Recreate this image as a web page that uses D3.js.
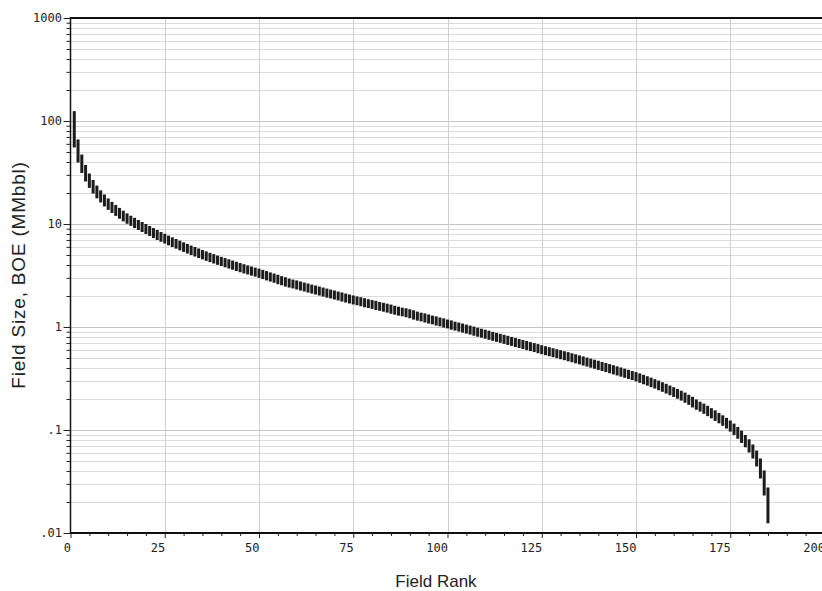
<!DOCTYPE html>
<html>
<head>
<meta charset="utf-8">
<script src="https://cdn.jsdelivr.net/npm/d3@7"></script>
<style>
body { margin: 0; background: #fff; }
</style>
</head>
<body>
<div id="plot-cont"></div>
<script>
// field sizes in MMbbl BOE, largest first
const fieldSize = [
  114, 60.5, 43.2, 34.2, 28.3, 24.5, 21.6, 19.4, 17.7, 16.2,
  15.0, 14.0, 13.1, 12.3, 11.6, 11.0, 10.5, 10.0, 9.56, 9.15,
  8.74, 8.36, 8.00, 7.65, 7.35, 7.06, 6.79, 6.54, 6.30, 6.07,
  5.86, 5.65, 5.47, 5.29, 5.11, 4.96, 4.80, 4.66, 4.52, 4.39,
  4.27, 4.15, 4.04, 3.93, 3.82, 3.72, 3.62, 3.54, 3.45, 3.37,
  3.28, 3.19, 3.10, 3.02, 2.94, 2.85, 2.78, 2.70, 2.64, 2.59,
  2.53, 2.47, 2.42, 2.36, 2.31, 2.26, 2.21, 2.16, 2.11, 2.07,
  2.02, 1.98, 1.93, 1.89, 1.85, 1.81, 1.78, 1.74, 1.70, 1.67,
  1.64, 1.60, 1.57, 1.54, 1.51, 1.47, 1.44, 1.41, 1.39, 1.36,
  1.33, 1.29, 1.26, 1.24, 1.21, 1.18, 1.16, 1.13, 1.11, 1.08,
  1.06, 1.03, 1.01, 0.987, 0.965, 0.944, 0.923, 0.900, 0.880, 0.861,
  0.842, 0.821, 0.803, 0.785, 0.768, 0.750, 0.733, 0.717, 0.699, 0.684,
  0.669, 0.652, 0.638, 0.624, 0.609, 0.595, 0.582, 0.569, 0.557, 0.544,
  0.532, 0.521, 0.508, 0.497, 0.485, 0.474, 0.462, 0.451, 0.440, 0.430,
  0.419, 0.409, 0.399, 0.389, 0.379, 0.370, 0.360, 0.351, 0.342, 0.334,
  0.324, 0.314, 0.304, 0.295, 0.285, 0.276, 0.266, 0.257, 0.247, 0.238,
  0.229, 0.220, 0.211, 0.201, 0.192, 0.181, 0.172, 0.165, 0.157, 0.149,
  0.142, 0.134, 0.127, 0.120, 0.113, 0.1055, 0.0978, 0.090, 0.0818, 0.0743,
  0.0661, 0.0578, 0.0484, 0.037, 0.0253, 0.0136
];

const xTicks = [0, 25, 50, 75, 100, 125, 150, 175, 200];
const yTicks = [0.01, 0.1, 1, 10, 100, 1000];
const yTickLabels = ['.01', '.1', '1', '10', '100', '1000'];

const plotLeft = 70.5, plotRight = 824.5, plotTop = 18, plotBottom = 533;
const monoFont = '"DejaVu Sans Mono", monospace';
const sansFont = '"Liberation Sans", Arial, sans-serif';

const svg = d3.select('#plot-cont').append('svg')
    .attr('width', 822).attr('height', 591);

const x = d3.scaleLinear().domain([0, 200]).range([plotLeft, plotRight]);
const y = d3.scaleLog().domain([0.01, 1000]).range([plotBottom, plotTop]);

// horizontal grid, every 1-9 of each decade
svg.append('g')
    .selectAll('line')
    .data(y.ticks())
    .join('line')
    .attr('x1', plotLeft).attr('x2', plotRight)
    .attr('y1', d => Math.round(y(d)) + 0.5).attr('y2', d => Math.round(y(d)) + 0.5)
    .attr('stroke', d => yTicks.includes(d) ? '#c4c4c4' : '#dcdcdc')
    .attr('stroke-width', 1);

// vertical grid
svg.append('g')
    .selectAll('line')
    .data(xTicks.slice(1))
    .join('line')
    .attr('x1', d => Math.round(x(d)) + 0.5).attr('x2', d => Math.round(x(d)) + 0.5)
    .attr('y1', plotTop).attr('y2', plotBottom)
    .attr('stroke', '#d0d0d0')
    .attr('stroke-width', 1);

// one riser per rank, from this field's size down to the next one
svg.append('g')
    .selectAll('rect')
    .data(d3.pairs(fieldSize))
    .join('rect')
    .attr('x', (d, i) => x(i + 1) - 1.5)
    .attr('width', 3)
    .attr('y', d => y(d[0]) - 4)
    .attr('height', d => y(d[1]) - y(d[0]) + 8)
    .attr('fill', '#1c1c1c');

// left axis: ticks outward, labels drawn separately
const yAxis = svg.append('g')
    .attr('transform', `translate(${plotLeft},0)`)
    .call(d3.axisLeft(y).tickValues(y.ticks()).tickSize(4).tickFormat(''));
yAxis.selectAll('.tick line')
    .attr('x2', d => yTicks.includes(d) ? -7 : -4)
    .attr('stroke', '#222');
yAxis.select('.domain').remove();

svg.append('g')
    .selectAll('text')
    .data(yTicks)
    .join('text')
    .text((d, i) => yTickLabels[i])
    .attr('x', 62)
    .attr('y', d => y(d) + 4)
    .attr('text-anchor', 'end')
    .attr('font-family', monoFont)
    .attr('font-size', 12)
    .attr('fill', '#222');

// bottom axis with minor ticks every 5
const xAxis = svg.append('g')
    .attr('transform', `translate(0,${plotBottom})`)
    .call(d3.axisBottom(x).tickValues(d3.range(0, 201, 5)).tickSize(3).tickFormat(''));
xAxis.selectAll('.tick line')
    .attr('y2', d => d % 25 === 0 ? 5 : 3)
    .attr('stroke', '#222');
xAxis.select('.domain').remove();

// labels sit just left of their tick, as in the original
svg.append('g')
    .selectAll('text')
    .data(xTicks)
    .join('text')
    .text(d => d)
    .attr('x', d => x(d) + 0.5)
    .attr('y', 552)
    .attr('text-anchor', 'end')
    .attr('font-family', monoFont)
    .attr('font-size', 12)
    .attr('fill', '#222');

// frame lines
svg.append('line')
    .attr('x1', plotLeft).attr('x2', plotRight).attr('y1', plotTop).attr('y2', plotTop)
    .attr('stroke', '#111').attr('stroke-width', 2);
svg.append('line')
    .attr('x1', plotLeft).attr('x2', plotLeft).attr('y1', plotTop - 1).attr('y2', plotBottom + 1)
    .attr('stroke', '#111').attr('stroke-width', 1.5);
svg.append('line')
    .attr('x1', plotLeft).attr('x2', plotRight).attr('y1', plotBottom).attr('y2', plotBottom)
    .attr('stroke', '#111').attr('stroke-width', 2);

// axis titles
svg.append('text')
    .text('Field Rank')
    .attr('x', 436).attr('y', 587)
    .attr('text-anchor', 'middle')
    .attr('font-family', sansFont)
    .attr('font-size', 17)
    .attr('fill', '#222');

svg.append('text')
    .text('Field Size, BOE (MMbbl)')
    .attr('transform', 'translate(25,275) rotate(-90)')
    .attr('text-anchor', 'middle')
    .attr('font-family', sansFont)
    .attr('font-size', 19)
    .attr('letter-spacing', 0.8)
    .attr('fill', '#222');
</script>
</body>
</html>
